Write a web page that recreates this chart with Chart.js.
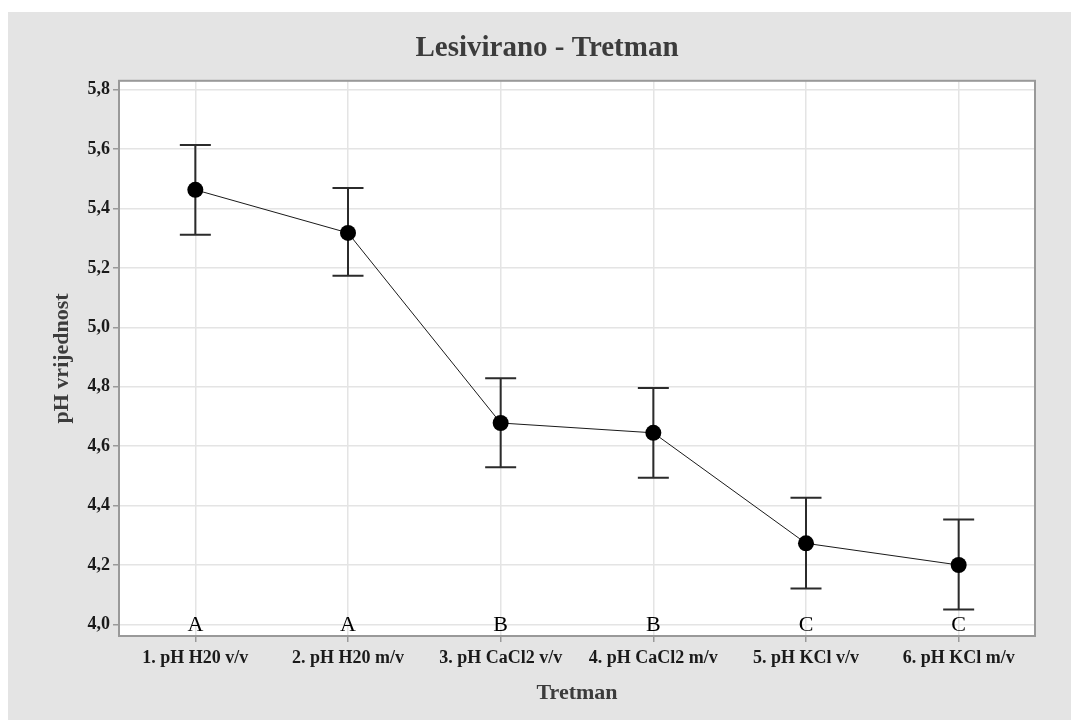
<!DOCTYPE html>
<html>
<head>
<meta charset="utf-8">
<script src="https://cdn.jsdelivr.net/npm/chart.js@4"></script>
<style>
  body { margin: 0; background: #fff; }
  #wrap { position: absolute; left: 8px; top: 12px; width: 1063px; height: 708px; background: #e4e4e4; }
</style>
</head>
<body>
<div id="wrap"><canvas id="chart" width="1063" height="708"></canvas></div>
<script>
// data
const categories = ["1. pH H20 v/v", "2. pH H20 m/v", "3. pH CaCl2 v/v", "4. pH CaCl2 m/v", "5. pH KCl v/v", "6. pH KCl m/v"];
const means = [5.463, 5.318, 4.678, 4.645, 4.273, 4.200];
const lower = [5.312, 5.174, 4.529, 4.494, 4.121, 4.050];
const upper = [5.614, 5.469, 4.829, 4.796, 4.426, 4.353];
const groups = ["A", "A", "B", "B", "C", "C"];
const yTicks = [4.0, 4.2, 4.4, 4.6, 4.8, 5.0, 5.2, 5.4, 5.6, 5.8];
const letterLevel = 4.0;

Chart.defaults.font.family = "'Liberation Serif', 'Times New Roman', serif";

const plotPanel = {
    id: "plotPanel",
    beforeDraw(chart) {
        // white plot area on the grey page
        const a = chart.chartArea;
        chart.ctx.save();
        chart.ctx.fillStyle = "#fff";
        chart.ctx.fillRect(a.left, a.top, a.right - a.left, a.bottom - a.top);
        chart.ctx.restore();
    },
    beforeDatasetsDraw(chart) {
        // error bars, under the points
        const ctx = chart.ctx;
        const x = chart.scales.x, y = chart.scales.y;
        ctx.save();
        ctx.strokeStyle = "#2b2b2b";
        ctx.lineWidth = 2;
        means.forEach((m, i) => {
            const px = x.getPixelForValue(i);
            const top = y.getPixelForValue(upper[i]);
            const bot = y.getPixelForValue(lower[i]);
            ctx.beginPath();
            ctx.moveTo(px, top); ctx.lineTo(px, bot);
            ctx.moveTo(px - 15.5, top); ctx.lineTo(px + 15.5, top);
            ctx.moveTo(px - 15.5, bot); ctx.lineTo(px + 15.5, bot);
            ctx.stroke();
        });
        ctx.restore();
    },
    afterDatasetsDraw(chart) {
        const ctx = chart.ctx;
        const a = chart.chartArea;
        const x = chart.scales.x, y = chart.scales.y;
        ctx.save();
        // grouping letters
        ctx.fillStyle = "#000";
        ctx.font = "22px 'Liberation Serif'";
        ctx.textAlign = "center";
        ctx.textBaseline = "alphabetic";
        groups.forEach((g, i) => {
            ctx.fillText(g, x.getPixelForValue(i), y.getPixelForValue(letterLevel) + 7);
        });
        // frame
        ctx.strokeStyle = "#999";
        ctx.lineWidth = 2;
        ctx.strokeRect(a.left, a.top, a.right - a.left, a.bottom - a.top);
        ctx.restore();
    }
};

new Chart(document.getElementById("chart"), {
    type: "line",
    data: {
        labels: categories,
        datasets: [{
            data: means,
            borderColor: "#1a1a1a",
            borderWidth: 1,
            pointRadius: 8,
            pointBackgroundColor: "#000",
            pointBorderWidth: 0,
            tension: 0
        }]
    },
    options: {
        responsive: false,
        animation: false,
        layout: { padding: { left: 15, right: 0, top: 0, bottom: 0 } },
        plugins: {
            legend: { display: false },
            tooltip: { enabled: false },
            title: {
                display: true,
                text: "Lesivirano - Tretman",
                color: "#3c3c3c",
                font: { size: 29, weight: "bold" },
                padding: { top: 19, bottom: 15 }
            }
        },
        scales: {
            x: {
                type: "category",
                offset: true,
                afterFit: s => { s.height = 84; },
                grid: { color: "#e4e4e4", lineWidth: 1.5, tickColor: "#999", tickLength: 6 },
                border: { display: false },
                ticks: { color: "#1a1a1a", font: { size: 18, weight: "bold" }, padding: 6, maxRotation: 0, autoSkip: false },
                title: { display: true, text: "Tretman", color: "#3c3c3c", font: { size: 22, weight: "bold" }, padding: { top: 0, bottom: 13 } }
            },
            y: {
                min: 3.961,
                max: 5.83,
                afterBuildTicks: s => { s.ticks = yTicks.map(v => ({ value: v })); },
                afterFit: s => { s.width = 96; },
                grid: { color: "#e4e4e4", lineWidth: 1.5, tickColor: "#999", tickLength: 6 },
                border: { display: false },
                ticks: { color: "#1a1a1a", font: { size: 18, weight: "bold" }, padding: 3, callback: v => v.toFixed(1).replace(".", ",") },
                title: { display: true, text: "pH vrijednost", color: "#3c3c3c", font: { size: 22, weight: "bold" }, padding: { top: 26, bottom: 0 } }
            },
            // empty right-hand spacer so the title centres like the reference
            yRight: {
                position: "right",
                display: true,
                afterFit: s => { s.width = 36; },
                grid: { display: false },
                border: { display: false },
                ticks: { display: false }
            }
        }
    },
    plugins: [plotPanel]
});
</script>
</body>
</html>
